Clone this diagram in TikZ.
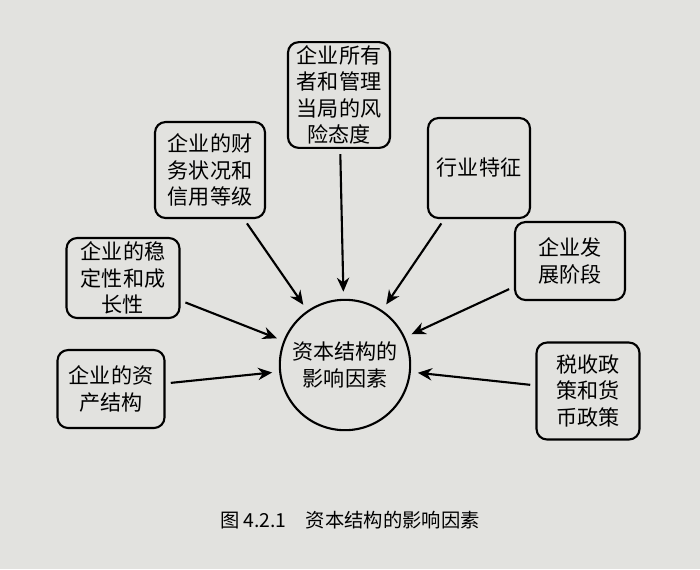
\documentclass[tikz,border=0pt]{standalone}
\usepackage{fontspec}
\newfontfamily\cjk{Noto Sans CJK SC}
\usetikzlibrary{arrows.meta}
\definecolor{paper}{RGB}{226,226,223}
\begin{document}
\begin{tikzpicture}[x=0.02cm,y=-0.02cm,
  every node/.append style={font=\cjk\fontsize{12}{15}\selectfont},
  factorbox/.style={draw, very thick, rounded corners=6pt, fill=paper, align=center, inner sep=2pt},
  centre/.style={draw, very thick, circle, minimum size=2.6cm, fill=paper, align=center},
  arr/.style={-{Stealth[length=8pt,width=7pt]}, very thick}]

\fill[paper] (0,0) rectangle (700,569);

\node[centre] (C) at (345,365) {资本结构的\\影响因素};

\node[factorbox, minimum width=2.04cm, minimum height=2cm] (B1) at (339,95) {企业所有\\者和管理\\当局的风\\险态度};
\node[factorbox, minimum width=2.2cm, minimum height=1.92cm] (B2) at (210,170) {企业的财\\务状况和\\信用等级};
\node[factorbox, minimum width=2.04cm, minimum height=2cm] (B3) at (479,168) {行业特征};
\node[factorbox, minimum width=2.26cm, minimum height=1.6cm] (B4) at (123,278) {企业的稳\\定性和成\\长性};
\node[factorbox, minimum width=2.2cm, minimum height=1.56cm] (B5) at (570,261) {企业发\\展阶段};
\node[factorbox, minimum width=2.14cm, minimum height=1.56cm] (B6) at (111,389) {企业的资\\产结构};
\node[factorbox, minimum width=2.06cm, minimum height=1.94cm] (B7) at (588,391) {税收政\\策和货\\币政策};

\foreach \b in {B1,B2,B3,B4,B5,B6,B7}
  \draw[arr, shorten >=4pt, shorten <=3pt] (\b) -- (C);

\node (cap) at (350,520) {\fontsize{11}{13}\selectfont 图 4.2.1\quad 资本结构的影响因素};
\end{tikzpicture}
\end{document}
